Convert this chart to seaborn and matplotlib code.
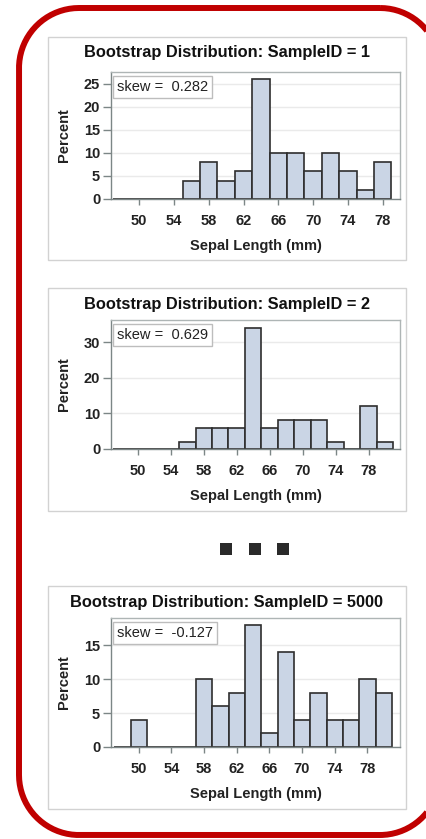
import matplotlib
matplotlib.use("Agg")
import matplotlib.pyplot as plt
import seaborn as sns
import numpy as np
from matplotlib.patches import Rectangle, PathPatch
from matplotlib.path import Path

# ---------------- data ----------------
sample_ids = ["1", "2", "5000"]
skew_labels = ["0.282", "0.629", "-0.127"]

bin_centers_1 = [48, 50, 52, 54, 56, 58, 60, 62, 64, 66, 68, 70, 72, 74, 76, 78]
percent_1 = [0, 0, 0, 0, 4, 8, 4, 6, 26, 10, 10, 6, 10, 6, 2, 8]

bin_centers_2 = [48, 50, 52, 54, 56, 58, 60, 62, 64, 66, 68, 70, 72, 74, 76, 78, 80]
percent_2 = [0, 0, 0, 0, 2, 6, 6, 6, 34, 6, 8, 8, 8, 2, 0, 12, 2]

bin_centers_3 = [48, 50, 52, 54, 56, 58, 60, 62, 64, 66, 68, 70, 72, 74, 76, 78, 80]
percent_3 = [0, 4, 0, 0, 0, 10, 6, 8, 18, 2, 14, 4, 8, 4, 4, 10, 8]

x_ticks = [50, 54, 58, 62, 66, 70, 74, 78]
y_ticks_1 = [0, 5, 10, 15, 20, 25]
y_ticks_2 = [0, 10, 20, 30]
y_ticks_3 = [0, 5, 10, 15]

title_text = "Bootstrap Distribution: SampleID = "
x_label = "Sepal Length (mm)"
y_label = "Percent"

# ---------------- style ----------------
sns.set_theme(style="white")
plt.rcParams['font.family'] = ['Liberation Sans', 'DejaVu Sans']

W, H = 426, 839
fig = plt.figure(figsize=(W / 100, H / 100), dpi=100)


def fx(x):
    return x / W


def fy(y):
    return 1 - y / H


BAR_FILL = "#CAD5E5"
BAR_EDGE = "#2E2E2E"
AXIS_DARK = "#7C8686"
AXIS_LIGHT = "#AEB5B5"
TEXT = "#222222"

panels = [
    dict(top=37, ax_top=72, ax_bot=199, xlim=(46.75, 80.0), ylim=(0, 27.5),
         centers=bin_centers_1, vals=percent_1, yticks=y_ticks_1),
    dict(top=288, ax_top=320, ax_bot=449, xlim=(46.75, 81.8), ylim=(0, 36.2),
         centers=bin_centers_2, vals=percent_2, yticks=y_ticks_2),
    dict(top=586, ax_top=618, ax_bot=747, xlim=(46.6, 82.0), ylim=(0, 19.0),
         centers=bin_centers_3, vals=percent_3, yticks=y_ticks_3),
]

AX_L, AX_R = 111, 400
PANEL_L, PANEL_R, PANEL_H = 48, 406, 223

for i, p in enumerate(panels):
    # panel frame
    fig.patches.append(Rectangle((fx(PANEL_L), fy(p["top"] + PANEL_H)),
                                 (PANEL_R - PANEL_L) / W, PANEL_H / H,
                                 transform=fig.transFigure, fill=False,
                                 edgecolor="#D2D2D2", linewidth=1.0, zorder=0))
    ax = fig.add_axes([fx(AX_L), fy(p["ax_bot"]), (AX_R - AX_L) / W,
                       (p["ax_bot"] - p["ax_top"]) / H])
    centers = p["centers"]
    edges = [c - 1 for c in centers] + [centers[-1] + 1]
    sns.histplot(x=centers, weights=p["vals"], bins=edges, ax=ax,
                 color=BAR_FILL, edgecolor=BAR_EDGE, linewidth=1.2, alpha=1)
    ax.set_xlim(*p["xlim"])
    ax.set_ylim(*p["ylim"])
    ax.set_xticks(x_ticks)
    ax.set_yticks(p["yticks"])
    ax.set_xlabel("")
    ax.set_ylabel("")
    ax.set_axisbelow(True)
    ax.yaxis.grid(True, color="#EAEAEA", linewidth=1.0)
    ax.xaxis.grid(False)
    for s in ["left", "bottom"]:
        ax.spines[s].set_color(AXIS_DARK)
        ax.spines[s].set_linewidth(1.0)
    for s in ["top", "right"]:
        ax.spines[s].set_color(AXIS_LIGHT)
        ax.spines[s].set_linewidth(1.0)
    ax.tick_params(axis="x", direction="out", length=4.3, width=1.0,
                   color=AXIS_DARK, pad=6.5, labelsize=10.5, labelcolor=TEXT,
                   bottom=True)
    ax.tick_params(axis="y", direction="out", length=5.8, width=1.0,
                   color=AXIS_DARK, pad=2, labelsize=10.5, labelcolor=TEXT,
                   left=True)
    for lab in ax.get_xticklabels() + ax.get_yticklabels():
        lab.set_fontweight("bold")

    # skew box
    ax.annotate(f"skew =  {skew_labels[i]}", xy=(0, 1), xycoords="axes fraction",
                xytext=(4.3, -5.8), textcoords="offset points", ha="left", va="top",
                fontsize=10.5, color=TEXT,
                bbox=dict(boxstyle="square,pad=0.28", facecolor="white",
                          edgecolor="#BDBDBD", linewidth=1.0))

    # titles and labels
    fig.text(fx(227), fy(p["top"] + 16), title_text + sample_ids[i],
             ha="center", va="center", fontsize=11.8, fontweight="bold", color="#111111")
    fig.text(fx(64), fy((p["ax_top"] + p["ax_bot"]) / 2), y_label, rotation=90,
             ha="center", va="center", fontsize=10.5, fontweight="bold", color=TEXT)
    fig.text(fx(256), fy(p["ax_bot"] + 47), x_label, ha="center", va="center",
             fontsize=10.5, fontweight="bold", color=TEXT)

# ---------------- overlay: red rounded border, ellipsis squares ----------------
ov = fig.add_axes([0, 0, 1, 1], facecolor="none")
ov.set_xlim(0, W)
ov.set_ylim(H, 0)
ov.axis("off")

# rounded rectangle outline in pixel units (decoration)
L, T, R, B, RAD = 19, 8, 440, 835, 60


def arc(cx, cy, a0, a1):
    t = np.radians(np.linspace(a0, a1, 40))
    return np.column_stack([cx + RAD * np.cos(t), cy + RAD * np.sin(t)])


# y axis points downward, so angles measured with +y down
pts = np.vstack([
    arc(R - RAD, T + RAD, 270, 360),   # top-right
    arc(R - RAD, B - RAD, 0, 90),      # bottom-right
    arc(L + RAD, B - RAD, 90, 180),    # bottom-left
    arc(L + RAD, T + RAD, 180, 270),   # top-left
])
pts = np.vstack([pts, pts[:1]])
ov.add_patch(PathPatch(Path(pts), fill=False, edgecolor="#C00000",
                       linewidth=4.3, clip_on=False, joinstyle="round"))

for sx in [220, 249, 277]:
    ov.add_patch(Rectangle((sx, 543), 12, 12, facecolor="#2A2A2A", edgecolor="none"))

fig.savefig("out.png", dpi=100)
